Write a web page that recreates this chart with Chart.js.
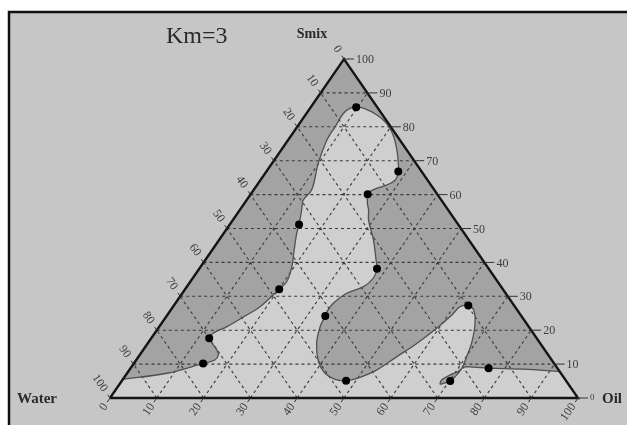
<!DOCTYPE html>
<html>
<head>
<meta charset="utf-8">
<script src="https://cdn.jsdelivr.net/npm/chart.js@4.4.0/dist/chart.umd.min.js"></script>
<style>
  body { margin: 0; background: #fff; }
  #wrap { width: 627px; height: 425px; }
</style>
</head>
<body>
<div id="wrap"><canvas id="phase"></canvas></div>
<script>
// compositions in %, water = 100 - oil - smix
var tickValues = [0, 10, 20, 30, 40, 50, 60, 70, 80, 90, 100];

// measured points (black dots)
var dotOil  = [9.7, 28.2, 25.0, 14.8, 38.0, 20.1, 62.9, 33.9, 12.4, 14.8, 76.5, 47.9, 70.2];
var dotSmix = [85.8, 66.8, 60.1, 51.2, 38.1, 32.1, 27.3, 24.2, 17.6, 10.2, 8.8, 5.1, 5.0];

// phase boundary, from the water side round to the oil side
var boundaryOil = [0, 8.5, 14.8, 16.8, 16.8, 15.7, 14.3, 12.4, 12.5, 14.4, 17.0, 18.6, 20.1, 20.6,
  19.5, 17.5, 15.6, 14.8, 13.2, 12.1, 12.4, 9.9, 8.3, 8.1, 7.9, 8.6, 9.7, 11.4, 15.3, 18.6, 21.7,
  24.7, 27.0, 28.2, 28.8, 27.7, 26.1, 25.1, 25.0, 26.3, 27.5, 29.0, 33.0, 36.5, 38.0, 38.6, 37.7,
  35.1, 33.7, 33.6, 33.9, 34.4, 36.1, 39.2, 42.3, 45.3, 47.9, 50.4, 52.9, 55.2, 57.5, 59.5, 60.8,
  61.3, 62.9, 64.7, 67.0, 69.2, 70.1, 70.8, 70.6, 70.2, 69.1, 68.5, 68.2, 69.3, 70.5, 71.0, 73.1,
  76.5, 84.1, 92.2];
var boundarySmix = [5.5, 7.3, 10.2, 11.2, 12.7, 14.2, 15.6, 17.6, 19.1, 21.0, 24.5, 26.9, 32.1, 34.3,
  38.7, 43.7, 48.6, 51.2, 55.5, 58.4, 61.4, 69.2, 76.1, 80.0, 84.0, 85.5, 85.8, 85.5, 83.5, 81.0, 77.6,
  73.2, 69.2, 66.8, 64.3, 62.8, 61.9, 60.9, 60.1, 57.4, 55.5, 52.5, 46.6, 40.7, 38.1, 35.3, 32.8,
  30.9, 27.9, 25.5, 24.2, 21.0, 16.1, 10.7, 7.3, 5.5, 5.1, 6.1, 8.3, 12.2, 16.1, 20.6, 24.5,
  26.9, 27.3, 26.0, 22.0, 16.1, 12.2, 8.8, 6.3, 5.0, 4.3, 4.1, 5.3, 6.8, 7.8, 9.1, 9.1,
  8.8, 8.5, 7.8];

// corners: Water, Smix, Oil
var cornerOil  = [0, 0, 100];
var cornerSmix = [0, 100, 0];

function tern(oil, smix) {
  return { x: oil + smix / 2, y: smix };
}

function pts(oils, smixes) {
  var out = [];
  for (var i = 0; i < oils.length; i++) out.push(tern(oils[i], smixes[i]));
  return out;
}

// grid lines, broken by null points
var gridPts = [];
for (var i = 1; i < tickValues.length - 1; i++) {
  var v = tickValues[i];
  gridPts.push(tern(0, v), tern(100 - v, v), { x: 0, y: null });       // smix
  gridPts.push(tern(v, 0), tern(v, 100 - v), { x: 0, y: null });       // oil
  gridPts.push(tern(100 - v, 0), tern(0, 100 - v), { x: 0, y: null }); // water
}

var trianglePts = pts(cornerOil, cornerSmix);
trianglePts.push(trianglePts[0]);

// two-phase area: boundary, then up the oil-smix edge, over the apex and
// down the water-smix edge (extra edge points keep the smoothed fill straight there)
var sEnd = boundarySmix[boundarySmix.length - 1];
var sStart = boundarySmix[0];
var shadePts = pts(boundaryOil, boundarySmix);
shadePts.push(
  tern(100 - (sEnd + 0.6), sEnd + 0.6),
  tern(0.4, 99.6),
  tern(cornerOil[1], cornerSmix[1]),
  tern(0, 99.6),
  tern(0, sStart + 0.6)
);

var serif = '"Liberation Serif", "Times New Roman", serif';

var ternaryAxes = {
  id: 'ternaryAxes',
  beforeDraw: function(chart) {
    var ctx = chart.ctx;
    ctx.save();
    ctx.fillStyle = '#ffffff';
    ctx.fillRect(0, 0, chart.width, chart.height);
    ctx.fillStyle = '#c6c6c6';
    ctx.fillRect(9, 12, chart.width - 9, chart.height - 12);
    ctx.strokeStyle = '#111';
    ctx.lineWidth = 2.5;
    ctx.beginPath();
    ctx.moveTo(9, chart.height);
    ctx.lineTo(9, 12);
    ctx.lineTo(chart.width, 12);
    ctx.stroke();
    ctx.restore();
  },
  afterDraw: function(chart) {
    var ctx = chart.ctx;
    var xs = chart.scales.x, ys = chart.scales.y;
    function px(oil, smix) {
      var p = tern(oil, smix);
      return [xs.getPixelForValue(p.x), ys.getPixelForValue(p.y)];
    }
    function unit(a, b) {
      var dx = b[0] - a[0], dy = b[1] - a[1], l = Math.sqrt(dx * dx + dy * dy);
      return [dx / l, dy / l];
    }
    var W = px(0, 0), S = px(0, 100), O = px(100, 0);
    var leftOut = unit(O, S);   // up-left, along constant water lines
    var botOut = unit(S, W);    // down-left, along constant oil lines
    var leftAng = Math.atan2(-leftOut[1], -leftOut[0]);
    var botAng = Math.atan2(-botOut[1], -botOut[0]);

    ctx.save();
    ctx.strokeStyle = '#333';
    ctx.fillStyle = '#3e3e3e';
    ctx.lineWidth = 1;
    ctx.font = '12px ' + serif;
    ctx.textBaseline = 'middle';

    tickValues.forEach(function(v) {
      // right edge: smix
      var r = px(100 - v, v);
      ctx.beginPath();
      ctx.moveTo(r[0], r[1]);
      ctx.lineTo(r[0] + 10, r[1]);
      ctx.stroke();
      ctx.textAlign = 'left';
      if (v === 0) {
        ctx.font = '9px ' + serif;
        ctx.fillText(String(v), r[0] + 12, r[1]);
        ctx.font = '12px ' + serif;
      } else {
        ctx.fillText(String(v), r[0] + 12, r[1] + 1);
      }

      // left edge: water
      var l = px(0, 100 - v);
      ctx.beginPath();
      ctx.moveTo(l[0], l[1]);
      ctx.lineTo(l[0] + leftOut[0] * 4, l[1] + leftOut[1] * 4);
      ctx.stroke();
      ctx.save();
      ctx.translate(l[0] + leftOut[0] * 9, l[1] + leftOut[1] * 9);
      ctx.rotate(leftAng);
      ctx.textAlign = 'right';
      ctx.fillText(String(v), 0, 0);
      ctx.restore();

      // bottom edge: oil
      var b = px(v, 0);
      ctx.beginPath();
      ctx.moveTo(b[0], b[1]);
      ctx.lineTo(b[0] + botOut[0] * 5, b[1] + botOut[1] * 5);
      ctx.stroke();
      ctx.save();
      ctx.translate(b[0] + botOut[0] * 8, b[1] + botOut[1] * 8);
      ctx.rotate(botAng);
      ctx.textAlign = 'right';
      ctx.fillText(String(v), 0, 0);
      ctx.restore();
    });

    ctx.fillStyle = '#2a2a2a';
    ctx.textBaseline = 'alphabetic';
    ctx.textAlign = 'left';
    ctx.font = '24px ' + serif;
    ctx.fillText('Km=3', 166, 43);
    ctx.font = 'bold 14px ' + serif;
    ctx.textAlign = 'center';
    ctx.fillText('Smix', S[0] - 32, S[1] - 21);
    ctx.textAlign = 'left';
    ctx.font = 'bold 15px ' + serif;
    ctx.fillText('Water', 17, W[1] + 5);
    ctx.fillText('Oil', O[0] + 24, O[1] + 5);
    ctx.restore();
  }
};

new Chart(document.getElementById('phase'), {
  type: 'line',
  data: {
    datasets: [
      {
        label: 'points',
        data: pts(dotOil, dotSmix),
        showLine: false,
        pointRadius: 4,
        pointBackgroundColor: '#000',
        pointBorderWidth: 0,
        clip: false,
        order: 1
      },
      {
        label: 'triangle',
        data: trianglePts,
        borderColor: '#151515',
        borderWidth: 2.4,
        pointRadius: 0,
        fill: false,
        tension: 0,
        clip: false,
        order: 2
      },
      {
        label: 'boundary',
        data: pts(boundaryOil, boundarySmix),
        borderColor: '#505050',
        borderWidth: 1.3,
        pointRadius: 0,
        fill: false,
        tension: 0.35,
        clip: false,
        order: 3
      },
      {
        label: 'grid',
        data: gridPts,
        borderColor: '#3a3a3a',
        borderWidth: 1.1,
        borderDash: [3, 3],
        pointRadius: 0,
        spanGaps: false,
        fill: false,
        tension: 0,
        clip: false,
        order: 4
      },
      {
        label: 'two-phase',
        data: shadePts,
        borderWidth: 0,
        borderColor: 'rgba(0,0,0,0)',
        backgroundColor: '#a3a3a3',
        pointRadius: 0,
        fill: 'shape',
        tension: 0.35,
        clip: false,
        order: 5
      },
      {
        label: 'area',
        data: trianglePts,
        borderWidth: 0,
        borderColor: 'rgba(0,0,0,0)',
        backgroundColor: '#cfcfcf',
        pointRadius: 0,
        fill: 'shape',
        tension: 0,
        clip: false,
        order: 6
      }
    ]
  },
  options: {
    responsive: true,
    maintainAspectRatio: false,
    animation: false,
    layout: { padding: { left: 110, right: 49, top: 59, bottom: 27 } },
    scales: {
      x: { type: 'linear', min: 0, max: 100, display: false },
      y: { type: 'linear', min: 0, max: 100, display: false }
    },
    plugins: {
      legend: { display: false },
      title: { display: false },
      tooltip: { enabled: false }
    }
  },
  plugins: [ternaryAxes]
});
</script>
</body>
</html>
